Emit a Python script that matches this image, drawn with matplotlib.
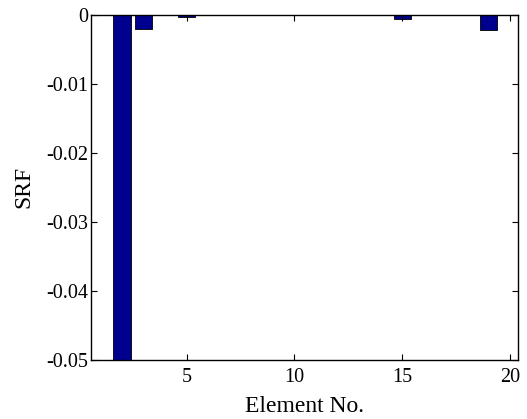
import numpy as np
import matplotlib
matplotlib.use("Agg")
import matplotlib.pyplot as plt

plt.rcParams['font.family'] = ['Liberation Serif', 'DejaVu Serif']

# SRF per element
elements = np.arange(1, 21)
srf = [0, -0.08, -0.0021, 0, -0.0004, 0, 0, 0, 0, 0,
       0, 0, 0, 0, -0.0007, 0, 0, 0, -0.0022, 0]

xticks = [5, 10, 15, 20]
yticks = [0, -0.01, -0.02, -0.03, -0.04, -0.05]
ytick_labels = ['0', '-0.01', '-0.02', '-0.03', '-0.04', '-0.05']

fig = plt.figure(figsize=(5.27, 4.19), dpi=100)
ax = fig.add_axes([0.172, 0.141, 0.811, 0.824])

ax.bar(elements, srf, width=0.8, color=(0, 0, 0.5625), edgecolor='black', linewidth=0.6)

ax.set_xlim(0.55, 20.37)
ax.set_ylim(-0.05, 0)
ax.set_xticks(xticks)
ax.set_yticks(yticks)
ax.set_yticklabels(ytick_labels)
ax.tick_params(direction='in', top=True, right=True, labelsize=14.5, length=4, width=0.8)
ax.tick_params(axis='x', pad=6)
ax.tick_params(axis='y', pad=2)
for s in ax.spines.values():
    s.set_linewidth(1.0)

ax.set_xlabel('Element No.', fontsize=17, labelpad=6)
ax.set_ylabel('SRF', fontsize=17, labelpad=8)

fig.savefig('out.png', dpi=100)
